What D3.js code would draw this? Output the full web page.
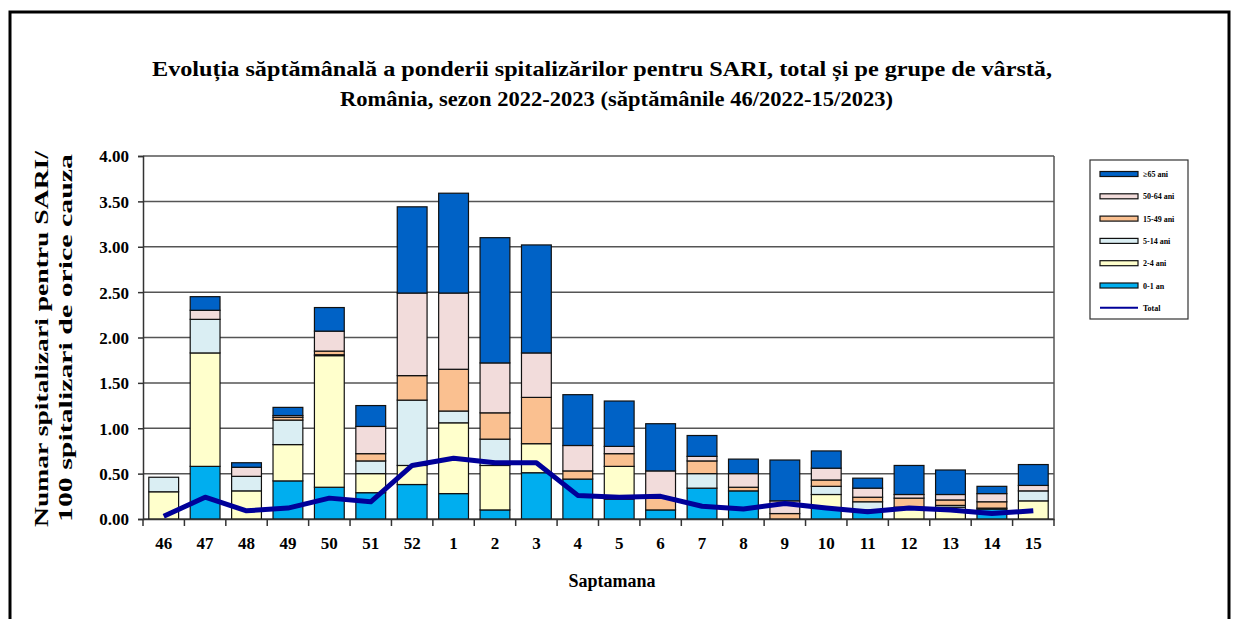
<!DOCTYPE html>
<html lang="ro">
<head>
<meta charset="UTF-8">
<title>Evoluția săptămânală SARI</title>
<style>
  body { margin: 0; background: #fff; }
  svg text { font-family: 'Liberation Serif', 'Times New Roman', serif; font-weight: bold; fill: #000; }
</style>
</head>
<body>
<div id="chart"></div>
<script src="https://cdnjs.cloudflare.com/ajax/libs/d3/7.8.5/d3.min.js"></script>
<script>
// saptamani
const weeks = ["46","47","48","49","50","51","52","1","2","3","4","5","6","7","8","9","10","11","12","13","14","15"];

// grupe de varsta (de jos in sus)
const g0_1   = [0.00,0.58,0.00,0.42,0.35,0.29,0.38,0.28,0.10,0.51,0.44,0.22,0.10,0.34,0.31,0.00,0.12,0.10,0.00,0.00,0.11,0.00];
const g2_4   = [0.30,1.25,0.31,0.40,1.45,0.21,0.21,0.78,0.49,0.32,0.00,0.36,0.00,0.00,0.00,0.00,0.15,0.00,0.13,0.13,0.00,0.20];
const g5_14  = [0.16,0.37,0.16,0.27,0.01,0.14,0.72,0.13,0.29,0.00,0.00,0.00,0.00,0.16,0.00,0.00,0.09,0.09,0.00,0.02,0.01,0.11];
const g15_49 = [0.00,0.00,0.00,0.03,0.04,0.08,0.27,0.46,0.29,0.51,0.09,0.14,0.13,0.14,0.04,0.06,0.07,0.05,0.10,0.06,0.07,0.00];
const g50_64 = [0.00,0.10,0.10,0.02,0.22,0.30,0.91,0.84,0.55,0.49,0.28,0.08,0.30,0.05,0.15,0.14,0.13,0.10,0.04,0.06,0.09,0.06];
const g65    = [0.00,0.15,0.05,0.09,0.26,0.23,0.95,1.10,1.38,1.19,0.56,0.50,0.52,0.23,0.16,0.45,0.19,0.11,0.32,0.27,0.08,0.23];
const total  = [0.03,0.24,0.09,0.12,0.23,0.19,0.59,0.67,0.62,0.62,0.26,0.24,0.25,0.14,0.11,0.17,0.12,0.08,0.12,0.10,0.06,0.09];

const yTicks = [0,0.5,1,1.5,2,2.5,3,3.5,4];

const series = [
  { key: "0-1 an",    values: g0_1,   color: "#00AEEF" },
  { key: "2-4 ani",   values: g2_4,   color: "#FFFFCC" },
  { key: "5-14 ani",  values: g5_14,  color: "#DAEEF3" },
  { key: "15-49 ani", values: g15_49, color: "#FAC090" },
  { key: "50-64 ani", values: g50_64, color: "#F2DCDB" },
  { key: "≥65 ani",   values: g65,    color: "#0062C6" }
];

const W = 1238, H = 619;
const margin = { top: 156, right: 184, bottom: 100, left: 143 };
const width = W - margin.left - margin.right;
const height = H - margin.top - margin.bottom;

const svg = d3.select("#chart").append("svg")
  .attr("width", W).attr("height", H);

// chenar
svg.append("rect")
  .attr("x", 10).attr("y", 12).attr("width", 1219).attr("height", 640)
  .attr("fill", "none").attr("stroke", "#000").attr("stroke-width", 3);

// titlu
svg.append("text").attr("x", 152).attr("y", 76)
  .style("font-size", "21px")
  .attr("textLength", 900).attr("lengthAdjust", "spacingAndGlyphs")
  .text("Evoluția săptămânală a ponderii spitalizărilor pentru  SARI, total și pe grupe de vârstă,");
svg.append("text").attr("x", 340).attr("y", 106)
  .style("font-size", "21px")
  .attr("textLength", 553).attr("lengthAdjust", "spacingAndGlyphs")
  .text("România, sezon 2022-2023 (săptămânile 46/2022-15/2023)");

const g = svg.append("g").attr("transform", `translate(${margin.left},${margin.top})`);

const x = d3.scaleBand().domain(weeks).range([0, width]).paddingInner(0.28).paddingOuter(0.14);
const y = d3.scaleLinear().domain([0, 4]).range([height, 0]);

// grila
g.append("g").selectAll("line").data(yTicks).join("line")
  .attr("x1", 0).attr("x2", width)
  .attr("y1", d => y(d)).attr("y2", d => y(d))
  .attr("stroke", "#555").attr("stroke-width", 1.5);

// stiva
const rows = weeks.map((w, i) => {
  const r = { week: w };
  series.forEach(s => r[s.key] = s.values[i]);
  return r;
});
const stack = d3.stack().keys(series.map(s => s.key))(rows);

g.append("g").selectAll("g").data(stack).join("g")
  .attr("fill", (d, i) => series[i].color)
  .selectAll("rect").data(d => d).join("rect")
  .filter(d => d[1] - d[0] > 0)
  .attr("x", d => x(d.data.week))
  .attr("width", x.bandwidth())
  .attr("y", d => y(d[1]))
  .attr("height", d => y(d[0]) - y(d[1]))
  .attr("stroke", "#111").attr("stroke-width", 1.2);

// linie total
const line = d3.line()
  .x((d, i) => x(weeks[i]) + x.bandwidth() / 2)
  .y(d => y(d));
g.append("path").datum(total)
  .attr("d", line).attr("fill", "none")
  .attr("stroke", "#000099").attr("stroke-width", 5)
  .attr("stroke-linejoin", "round");

// cadru plot dreapta
g.append("line").attr("x1", width).attr("x2", width).attr("y1", 0).attr("y2", height)
  .attr("stroke", "#555").attr("stroke-width", 1.5);

// axa Y
const yAxis = g.append("g")
  .call(d3.axisLeft(y).tickValues(yTicks).tickFormat(d3.format(".2f")).tickSize(5));
yAxis.select(".domain").attr("stroke", "#333").attr("stroke-width", 1.5);
yAxis.selectAll(".tick line").attr("stroke", "#333").attr("stroke-width", 1.5);
yAxis.selectAll("text").style("font-size", "17px").attr("x", -14).attr("dy", "0.35em");

// axa X
const step = x.step();
const xAxis = g.append("g").attr("transform", `translate(0,${height})`)
  .call(d3.axisBottom(x).tickSize(0).tickPadding(18));
xAxis.select(".domain").attr("stroke", "#333").attr("stroke-width", 1.5);
xAxis.selectAll("text").style("font-size", "17px");
xAxis.selectAll(".tick").append("line")
  .attr("x1", step / 2).attr("x2", step / 2).attr("y1", 0).attr("y2", 7)
  .attr("stroke", "#333").attr("stroke-width", 1.5);
xAxis.append("line").attr("x1", 0).attr("x2", 0).attr("y1", 0).attr("y2", 7)
  .attr("stroke", "#333").attr("stroke-width", 1.5);

// titluri axe
svg.append("text").attr("x", 612).attr("y", 587).attr("text-anchor", "middle")
  .style("font-size", "18px").text("Saptamana");
svg.append("text").attr("transform", "translate(48,527) rotate(-90)")
  .style("font-size", "18px")
  .attr("textLength", 376).attr("lengthAdjust", "spacingAndGlyphs")
  .text("Numar spitalizari pentru SARI/");
svg.append("text").attr("transform", "translate(72,522) rotate(-90)")
  .style("font-size", "18px")
  .attr("textLength", 368).attr("lengthAdjust", "spacingAndGlyphs")
  .text("100 spitalizari de orice cauza");

// legenda
const leg = svg.append("g").attr("transform", "translate(1090,160)");
leg.append("rect").attr("width", 98).attr("height", 159)
  .attr("fill", "#fff").attr("stroke", "#333").attr("stroke-width", 1.2);
const legItems = series.slice().reverse().map(s => ({ key: s.key, color: s.color, type: "bar" }))
  .concat([{ key: "Total", color: "#000099", type: "line" }]);
const li = leg.selectAll("g.li").data(legItems).join("g")
  .attr("transform", (d, i) => `translate(0,${14 + i * 22.3})`);
li.filter(d => d.type === "bar").append("rect")
  .attr("x", 10).attr("y", -2.5).attr("width", 38).attr("height", 5)
  .attr("fill", d => d.color).attr("stroke", "#111").attr("stroke-width", 1.2);
li.filter(d => d.type === "line").append("line")
  .attr("x1", 10).attr("x2", 48).attr("y1", 0).attr("y2", 0)
  .attr("stroke", d => d.color).attr("stroke-width", 2);
li.append("text").attr("x", 53).attr("y", 3)
  .style("font-size", "8px").text(d => d.key);
</script>
</body>
</html>
